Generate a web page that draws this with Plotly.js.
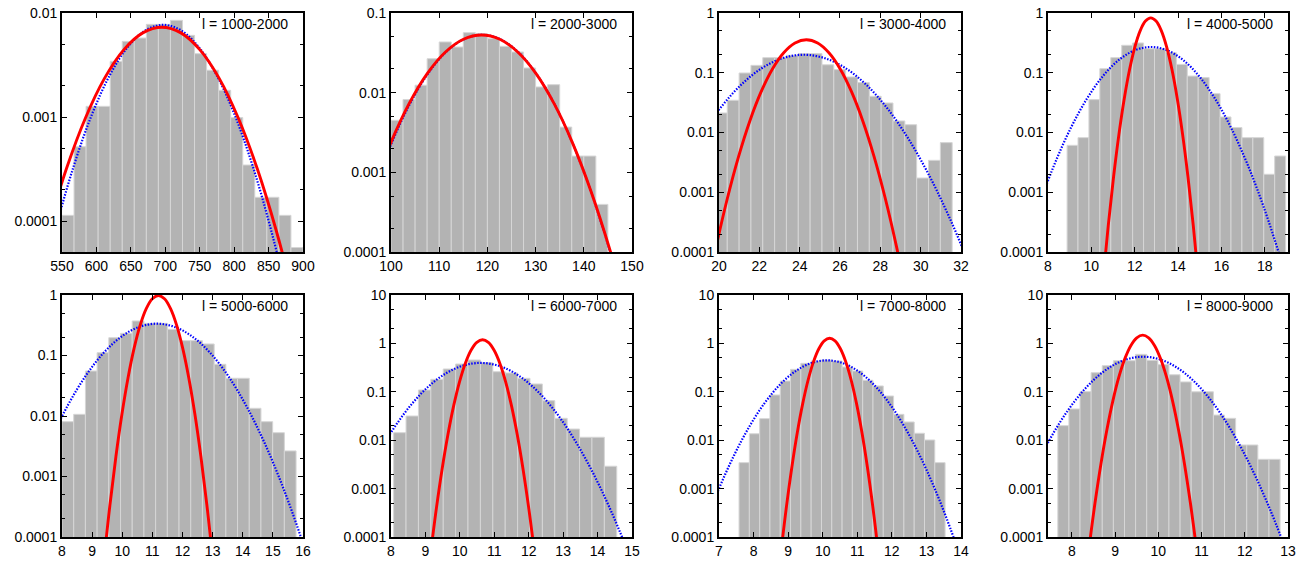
<!DOCTYPE html>
<html><head><meta charset="utf-8">
<script src="https://cdn.plot.ly/plotly-3.0.1.min.js"></script>
<style>html,body{margin:0;padding:0;background:#fff}#chart{width:1304px;height:561px}</style>
</head><body><div id="chart"></div>
<script>
// ---------- data ----------
const panelLabels = ['l = 1000-2000','l = 2000-3000','l = 3000-4000','l = 4000-5000',
                     'l = 5000-6000','l = 6000-7000','l = 7000-8000','l = 8000-9000'];

// histogram bins: first bin left edge and bin width
const binStart = [550, 100, 19.823, 8.88, 8, 8.077, 7.58, 7.677];
const binWidth = [17.5, 2.5, 0.587, 0.504, 0.3885, 0.36, 0.298, 0.257];

const hist1 = [1.14e-4,5.2e-4,1.27e-3,1.27e-3,3.43e-3,5.34e-3,5.75e-3,7.78e-3,7.78e-3,8.5e-3,
               6.1e-3,4.07e-3,2.82e-3,1.81e-3,9.9e-4,3.47e-4,1.7e-4,1.7e-4,1.14e-4,5.6e-5];
const hist2 = [4.5e-3,8.2e-3,0.0124,0.0267,0.0433,0.0374,0.0567,0.055,0.0477,0.0382,
               0.0324,0.0204,0.0118,0.0126,3.7e-3,1.6e-3,1.6e-3,3.96e-4];
const hist3 = [0.0212,0.0346,0.0991,0.133,0.179,0.179,0.196,0.209,0.209,0.136,
               0.113,0.085,0.0684,0.0404,0.0312,0.0156,0.0135,1.73e-3,3.42e-3,6.77e-3];
const hist4 = [6.1e-3,8.2e-3,0.0355,0.117,0.179,0.288,0.315,0.253,0.253,0.217,
               0.138,0.088,0.083,0.0447,0.0182,0.0121,8.2e-3,8.2e-3,2.0e-3,4.04e-3];
const hist5 = [8.06e-3,0.01066,0.0554,0.1114,0.197,0.2325,0.372,0.34,0.34,0.271,
               0.176,0.176,0.155,0.0715,0.042,0.042,0.0134,8.06e-3,5.3e-3,2.65e-3];
const hist6 = [0.0143,0.0316,0.109,0.181,0.296,0.375,0.454,0.40,0.26,0.245,
               0.19,0.145,0.0656,0.0283,0.017,0.0115,0.0115,2.9e-3];
const hist7 = [3.44e-3,0.0136,0.0279,0.0859,0.167,0.291,0.387,0.433,0.454,0.433,
               0.325,0.269,0.173,0.132,0.0819,0.0342,0.0238,0.0139,0.0101,3.44e-3];
const hist8 = [0.02,0.0442,0.1007,0.248,0.347,0.44,0.44,0.594,0.448,0.365,
               0.225,0.16,0.1,0.1,0.033,0.0283,7.96e-3,7.96e-3,4.03e-3,4.03e-3];

// red solid curves
const red1X = [445.7,473.4,501.1,528.8,556.5,584.2,611.9,639.6,667.3,695,722.7,750.4,778.1,805.8,833.5,861.2,888.9,916.6,944.3];
const red1Y = [2.925e-7,2.449e-6,1.597e-5,8.11e-5,3.208e-4,9.877e-4,2.370e-3,4.427e-3,6.442e-3,7.3e-3,6.442e-3,4.427e-3,2.370e-3,9.877e-4,3.208e-4,8.11e-5,1.597e-5,2.449e-6,2.925e-7];
const red2X = [84.83,88.6,92.38,96.15,99.93,103.7,107.48,111.25,115.03,118.8,122.58,126.35,130.13,133.9,137.68,141.45,145.23,149.0,152.78];
const red2Y = [2.124e-6,1.778e-5,1.160e-4,5.888e-4,2.329e-3,7.171e-3,0.01721,0.03214,0.04677,0.053,0.04677,0.03214,0.01721,7.171e-3,2.329e-3,5.888e-4,1.160e-4,1.778e-5,2.124e-6];
const red3X = [19.29,19.85,20.41,20.97,21.53,22.09,22.65,23.21,23.77,24.33,24.89,25.45,26.01,26.57,27.13,27.69,28.25,28.81,29.37];
const red3Y = [1.426e-5,1.194e-4,7.789e-4,3.955e-3,0.01564,0.04817,0.1156,0.2159,0.3142,0.356,0.3142,0.2159,0.1156,0.04817,0.01564,3.955e-3,7.789e-4,1.194e-4,1.426e-5];
const red4X = [10.535,10.78,11.025,11.27,11.515,11.76,12.005,12.25,12.495,12.74,12.985,13.23,13.475,13.72,13.965,14.21,14.455,14.7,14.945];
const red4Y = [3.326e-5,2.785e-4,1.816e-3,9.221e-3,0.03647,0.1123,0.2695,0.5034,0.7325,0.83,0.7325,0.5034,0.2695,0.1123,0.03647,9.221e-3,1.816e-3,2.785e-4,3.326e-5];
const red5X = [9.3865,9.588,9.7895,9.991,10.1925,10.394,10.5955,10.797,10.9985,11.2,11.4015,11.603,11.8045,12.006,12.2075,12.409,12.6105,12.812,13.0135];
const red5Y = [3.927e-5,3.288e-4,2.144e-3,0.01089,0.04306,0.1326,0.3182,0.5944,0.8649,0.98,0.8649,0.5944,0.3182,0.1326,0.04306,0.01089,2.144e-3,3.288e-4,3.927e-5];
const red6X = [9.1525,9.32,9.4875,9.655,9.8225,9.99,10.1575,10.325,10.4925,10.66,10.8275,10.995,11.1625,11.33,11.4975,11.665,11.8325,12.0,12.1675];
const red6Y = [4.768e-5,3.992e-4,2.603e-3,0.01322,0.05229,0.161,0.3864,0.7217,1.050,1.19,1.050,0.7217,0.3864,0.161,0.05229,0.01322,2.603e-3,3.992e-4,4.768e-5];
const red7X = [8.796,8.952,9.108,9.264,9.42,9.576,9.732,9.888,10.044,10.2,10.356,10.512,10.668,10.824,10.98,11.136,11.292,11.448,11.604];
const red7Y = [5.129e-5,4.294e-4,2.8e-3,0.01422,0.05624,0.1732,0.4156,0.7763,1.13,1.28,1.13,0.7763,0.4156,0.1732,0.05624,0.01422,2.8e-3,4.294e-4,5.129e-5];
const red8X = [8.398,8.536,8.674,8.812,8.95,9.088,9.226,9.364,9.502,9.64,9.778,9.916,10.054,10.192,10.33,10.468,10.606,10.744,10.882];
const red8Y = [5.93e-5,4.965e-4,3.238e-3,0.01644,0.06503,0.2002,0.4806,0.8976,1.306,1.48,1.306,0.8976,0.4806,0.2002,0.06503,0.01644,3.238e-3,4.965e-4,5.93e-5];

// blue dotted curves
const blue1X = [463,489,515,541,567,593,619,645,671,697,723,749,775,801,827,853,879,905,931];
const blue1Y = [3.085e-7,2.583e-6,1.685e-5,8.555e-5,3.383e-4,1.042e-3,2.5e-3,4.67e-3,6.795e-3,7.7e-3,6.795e-3,4.67e-3,2.5e-3,1.042e-3,3.383e-4,8.555e-5,1.685e-5,2.583e-6,3.085e-7];
const blue2X = [85.15,88.9,92.65,96.4,100.15,103.9,107.65,111.4,115.15,118.9,122.65,126.4,130.15,133.9,137.65,141.4,145.15,148.9,152.65];
const blue2Y = [2.132e-6,1.785e-5,1.164e-4,5.911e-4,2.338e-3,7.198e-3,0.01727,0.03227,0.04695,0.0532,0.04695,0.03227,0.01727,7.198e-3,2.338e-3,5.911e-4,1.164e-4,1.785e-5,2.132e-6];
const blue3X = [15.02,16.04,17.06,18.08,19.1,20.12,21.14,22.16,23.18,24.2,25.22,26.24,27.26,28.28,29.3,30.32,31.34,32.36,33.38];
const blue3Y = [8.014e-6,6.71e-5,4.376e-4,2.222e-3,8.788e-3,0.02706,0.06494,0.1213,0.1765,0.2,0.1765,0.1213,0.06494,0.02706,8.788e-3,2.222e-3,4.376e-4,6.71e-5,8.014e-6];
const blue4X = [6.09,6.83,7.57,8.31,9.05,9.79,10.53,11.27,12.01,12.75,13.49,14.23,14.97,15.71,16.45,17.19,17.93,18.67,19.41];
const blue4Y = [1.082e-5,9.059e-5,5.908e-4,3.0e-3,0.01186,0.03653,0.08767,0.1638,0.2383,0.27,0.2383,0.1638,0.08767,0.03653,0.01186,3.0e-3,5.908e-4,9.059e-5,1.082e-5];
const blue5X = [5.813,6.406,6.999,7.592,8.185,8.778,9.371,9.964,10.557,11.15,11.743,12.336,12.929,13.522,14.115,14.708,15.301,15.894,16.487];
const blue5Y = [1.346e-5,1.127e-4,7.35e-4,3.733e-3,0.01476,0.04546,0.1091,0.2038,0.2965,0.336,0.2965,0.2038,0.1091,0.04546,0.01476,3.733e-3,7.35e-4,1.127e-4,1.346e-5];
const blue6X = [6.055,6.56,7.065,7.57,8.075,8.58,9.085,9.59,10.095,10.6,11.105,11.61,12.115,12.62,13.125,13.63,14.135,14.64,15.145];
const blue6Y = [1.583e-5,1.325e-4,8.643e-4,4.388e-3,0.01736,0.05344,0.1282,0.2396,0.3486,0.395,0.3486,0.2396,0.1282,0.05344,0.01736,4.388e-3,8.643e-4,1.325e-4,1.583e-5];
const blue7X = [6.1015,6.548,6.9945,7.441,7.8875,8.334,8.7805,9.227,9.6735,10.12,10.5665,11.013,11.4595,11.906,12.3525,12.799,13.2455,13.692,14.1385];
const blue7Y = [1.791e-5,1.5e-4,9.78e-4,4.966e-3,0.01964,0.06048,0.1451,0.2711,0.3945,0.447,0.3945,0.2711,0.1451,0.06048,0.01964,4.966e-3,9.78e-4,1.5e-4,1.791e-5];
const blue8X = [6.185,6.57,6.955,7.34,7.725,8.11,8.495,8.88,9.265,9.65,10.035,10.42,10.805,11.19,11.575,11.96,12.345,12.73,13.115];
const blue8Y = [2.124e-5,1.778e-4,1.16e-3,5.888e-3,0.02329,0.07171,0.1721,0.3214,0.4677,0.53,0.4677,0.3214,0.1721,0.07171,0.02329,5.888e-3,1.16e-3,1.778e-4,2.124e-5];

// tick labels
const xTicks1 = [550,600,650,700,750,800,850,900];
const xTicks2 = [100,110,120,130,140,150];
const xTicks3 = [20,22,24,26,28,30,32];
const xTicks4 = [8,10,12,14,16,18];
const xTicks5 = [8,9,10,11,12,13,14,15,16];
const xTicks6 = [8,9,10,11,12,13,14,15];
const xTicks7 = [7,8,9,10,11,12,13,14];
const xTicks8 = [8,9,10,11,12,13];
const yTicks1 = ['0.0001','0.001','0.01'];
const yTicks2 = ['0.0001','0.001','0.01','0.1'];
const yTicks3 = ['0.0001','0.001','0.01','0.1','1'];
const yTicks6 = ['0.0001','0.001','0.01','0.1','1','10'];

// ---------- assembly ----------
const hists = [hist1,hist2,hist3,hist4,hist5,hist6,hist7,hist8];
const reds = [[red1X,red1Y],[red2X,red2Y],[red3X,red3Y],[red4X,red4Y],[red5X,red5Y],[red6X,red6Y],[red7X,red7Y],[red8X,red8Y]];
const blues = [[blue1X,blue1Y],[blue2X,blue2Y],[blue3X,blue3Y],[blue4X,blue4Y],[blue5X,blue5Y],[blue6X,blue6Y],[blue7X,blue7Y],[blue8X,blue8Y]];
const xTicks = [xTicks1,xTicks2,xTicks3,xTicks4,xTicks5,xTicks6,xTicks7,xTicks8];
const yTickTexts = [yTicks1,yTicks2,yTicks3,yTicks3,yTicks3,yTicks6,yTicks6,yTicks6];

const xRanges = [[550,900],[100,150],[20,32],[8,19.07],[8,16],[8,15],[7,14],[7.45,13]];
const yRanges = [[-4.295,-2],[-4,-1],[-4,0],[-4,0],[-4,0],[-4,1],[-4,1],[-4,1]];
const colDom = [[0.04755,0.23236],[0.29985,0.48466],[0.55138,0.73696],[0.80368,0.98773]];
const rowDom = [[0.5508,0.97683],[0.04278,0.47415]];

const FONT = 'Liberation Sans, Arial, Helvetica, sans-serif';
const traces = [];
const layout = {
  width:1304, height:561, margin:{l:0,r:0,t:0,b:0},
  paper_bgcolor:'#ffffff', plot_bgcolor:'#ffffff', showlegend:false,
  font:{family:FONT, size:14, color:'#000'}, annotations:[]
};

for (let i=0;i<8;i++){
  const n = i+1;
  const xa = n===1?'x':'x'+n, ya = n===1?'y':'y'+n;
  const centers = hists[i].map((v,k)=>binStart[i]+(k+0.5)*binWidth[i]);
  traces.push({type:'bar', x:centers, y:hists[i], width:hists[i].map(()=>binWidth[i]),
    xaxis:xa, yaxis:ya, marker:{color:'#b3b3b3', line:{color:'#d6d6d6', width:1}}, hoverinfo:'skip'});
  traces.push({type:'scatter', mode:'lines', x:blues[i][0], y:blues[i][1], xaxis:xa, yaxis:ya,
    line:{color:'#0000ff', width:2.2, dash:'1.5px,1.5px', shape:'spline'}, hoverinfo:'skip'});
  traces.push({type:'scatter', mode:'lines', x:reds[i][0], y:reds[i][1], xaxis:xa, yaxis:ya,
    line:{color:'#ff0000', width:2.9, shape:'spline'}, hoverinfo:'skip'});

  const yt = yTickTexts[i].map(s=>parseFloat(s));
  const common = {showline:true, linecolor:'#000', linewidth:2, mirror:'ticks', ticks:'inside',
    ticklen:5, tickwidth:1, tickcolor:'#000', showgrid:false, zeroline:false,
    tickfont:{family:FONT, size:14, color:'#000'}, fixedrange:true};
  layout[n===1?'xaxis':'xaxis'+n] = Object.assign({}, common, {
    domain:colDom[i%4], anchor:ya, range:xRanges[i], tickmode:'array',
    tickvals:xTicks[i], ticktext:xTicks[i].map(String)});
  layout[n===1?'yaxis':'yaxis'+n] = Object.assign({}, common, {
    domain:rowDom[Math.floor(i/4)], anchor:xa, type:'log', range:yRanges[i], tickmode:'array',
    tickvals:yt, ticktext:yTickTexts[i],
    minor:{ticks:'inside', ticklen:3, tickwidth:1, tickcolor:'#000', dtick:'D2'}});
  layout.annotations.push({xref:xa+' domain', yref:ya+' domain', x:1, y:1, xanchor:'right', yanchor:'middle',
    xshift:-13, yshift:-11, showarrow:false, text:panelLabels[i], font:{family:FONT, size:14, color:'#000'}});
}

Plotly.newPlot('chart', traces, layout, {staticPlot:true, displayModeBar:false});
</script></body></html>
